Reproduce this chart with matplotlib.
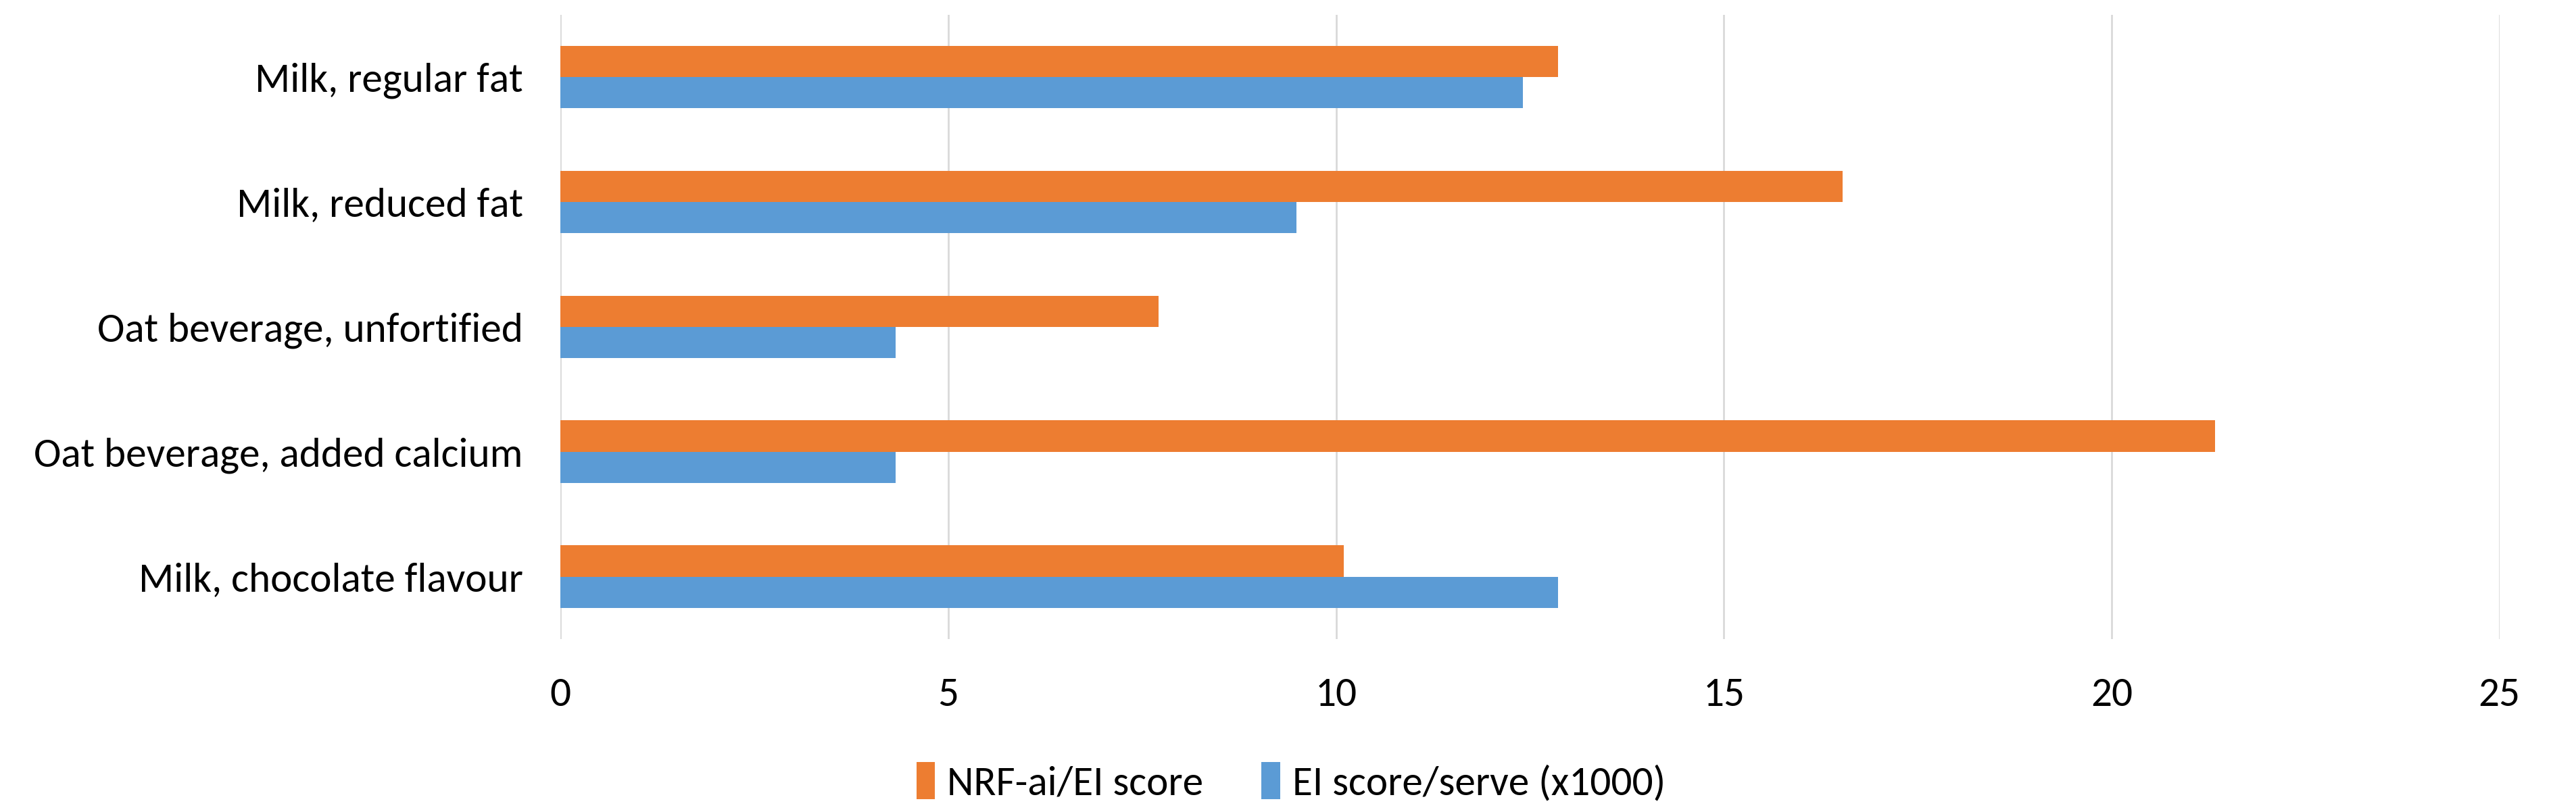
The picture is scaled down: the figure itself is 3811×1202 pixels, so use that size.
import matplotlib
matplotlib.use("agg")
import matplotlib.pyplot as plt
import numpy as np

categories = ['Milk, regular fat', 'Milk, reduced fat', 'Oat beverage, unfortified',
              'Oat beverage, added calcium', 'Milk, chocolate flavour']
nrf_ei = [12.86, 16.53, 7.71, 21.33, 10.1]
ei_serve = [12.41, 9.49, 4.32, 4.32, 12.86]
xticks = [0, 5, 10, 15, 20, 25]

plt.rcParams['font.family'] = ['Carlito', 'Liberation Sans', 'DejaVu Sans']

fig = plt.figure(figsize=(38.12, 12.02), dpi=100)
ax = fig.add_axes([0.2175, 0.213, 0.7525, 0.769])

y = np.arange(len(categories))
h = 0.25
ax.barh(y - h / 2, nrf_ei, height=h, color='#ED7D31', label='NRF-ai/EI score', zorder=3)
ax.barh(y + h / 2, ei_serve, height=h, color='#5B9BD5', label='EI score/serve (x1000)', zorder=3)

ax.set_ylim(len(categories) - 0.5, -0.5)
ax.set_xlim(0, 25)
ax.set_xticks(xticks)
ax.set_yticks(y)
ax.set_yticklabels(categories)
ax.tick_params(axis='both', length=0, labelsize=44, colors='#000000')
ax.tick_params(axis='x', pad=40)
ax.tick_params(axis='y', pad=40)
ax.grid(axis='x', color='#D9D9D9', linewidth=2, zorder=0)
for s in ax.spines.values():
    s.set_visible(False)

fig.legend(loc='center', bbox_to_anchor=(0.501, 0.037), ncol=2, frameon=False,
           fontsize=44, handlelength=0.45, handleheight=1.0, handletextpad=0.3,
           columnspacing=1.4)

plt.savefig('out.png', format='png')
plt.close()
